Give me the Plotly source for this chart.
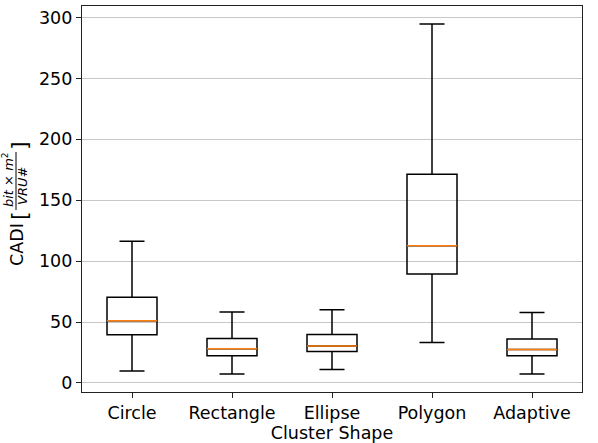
import plotly.graph_objects as go

categories = ["Circle", "Rectangle", "Ellipse", "Polygon", "Adaptive"]
lower_whisker = [9.8, 7.4, 11.1, 33.2, 7.4]
q1_values = [39.5, 22.3, 25.9, 89.4, 22.3]
median_values = [51.0, 28.1, 30.3, 112.6, 27.5]
q3_values = [70.4, 36.5, 39.8, 171.3, 36.2]
upper_whisker = [116.3, 58.3, 60.2, 294.6, 57.8]
y_ticks = [0, 50, 100, 150, 200, 250, 300]

FONT = "DejaVu Sans"
FS = 17.5
fig = go.Figure()

fig.add_trace(go.Box(
    x=categories, q1=q1_values, median=median_values, q3=q3_values,
    lowerfence=lower_whisker, upperfence=upper_whisker,
    width=0.5, whiskerwidth=0.5, boxpoints=False,
    line=dict(color="black", width=1.5), fillcolor="rgba(0,0,0,0)",
    showlegend=False, hoverinfo="skip",
))
# orange median lines
fig.add_trace(go.Box(
    x=categories, q1=median_values, median=median_values, q3=median_values,
    lowerfence=median_values, upperfence=median_values,
    width=0.5, whiskerwidth=0.5, boxpoints=False,
    line=dict(color="#ff7f0e", width=1.5), fillcolor="rgba(0,0,0,0)",
    showlegend=False, hoverinfo="skip",
))

L, R, T, B = 82, 16, 6, 51
W, H = 598, 443
plot_h = H - T - B

fig.update_layout(
    width=W, height=H,
    margin=dict(l=L, r=R, t=T, b=B, autoexpand=False),
    paper_bgcolor="white", plot_bgcolor="white",
    font=dict(family=FONT, size=FS, color="black"),
    boxmode="overlay",
    xaxis=dict(
        range=[-0.5, 4.5], showline=True, mirror=True, linecolor="#222", linewidth=1.3,
        ticks="outside", ticklen=5, tickcolor="#222", showgrid=False, automargin=False,
        title=dict(text="Cluster Shape", font=dict(size=FS), standoff=0),
        tickfont=dict(size=FS),
    ),
    yaxis=dict(
        range=[-7.4, 309.4], showline=True, mirror=True, linecolor="#222", linewidth=1.3,
        ticks="outside", ticklen=5, tickcolor="#222", automargin=False,
        tickvals=y_ticks, showgrid=True, gridcolor="#c8c8c8", gridwidth=1,
        zeroline=False, tickfont=dict(size=FS),
    ),
)

def ann(text, px, py, size):
    fig.add_annotation(
        text=text, xref="paper", yref="paper", x=0, y=0.5,
        xshift=px - L, yshift=(T + plot_h / 2) - py,
        xanchor="center", yanchor="middle", textangle=-90,
        showarrow=False, font=dict(family=FONT, size=size, color="black"),
    )

ann("CADI", 17, 245, FS)
ann("[", 19, 216, 22)
ann("]", 19, 146, 22)
ann("<i>bit</i> × <i>m</i><sup>2</sup>", 8, 180, 13)
ann("<i>VRU#</i>", 22, 186, 13)
# fraction bar
x_bar = (16 - L) / (W - L - R)
fig.add_shape(type="line", xref="paper", yref="paper",
              x0=x_bar, x1=x_bar, y0=(H - B - 152) / plot_h, y1=(H - B - 210) / plot_h,
              line=dict(color="black", width=1))

fig.write_html("out.html", config={"displayModeBar": False},
               post_script="document.body.style.margin='0';")
